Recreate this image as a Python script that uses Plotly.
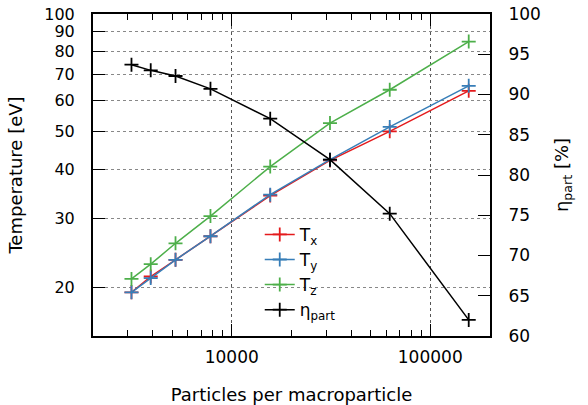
import plotly.graph_objects as go

# Data
particles = [3125, 3906.25, 5208.33, 7812.5, 15625, 31250, 62500, 156250]
T_x = [19.4, 21.3, 23.5, 27.0, 34.3, 42.2, 50.1, 63.6]
T_y = [19.4, 21.1, 23.5, 27.0, 34.5, 42.4, 51.4, 65.5]
T_z = [21.0, 22.9, 25.9, 30.4, 40.7, 52.6, 64.0, 85.0]
eta_part = [93.7, 93.0, 92.3, 90.7, 87.0, 81.9, 75.2, 62.0]

x_major = [10000, 100000]
x_minor = [2000, 3000, 4000, 5000, 6000, 7000, 8000, 9000,
           20000, 30000, 40000, 50000, 60000, 70000, 80000, 90000, 200000]
y_ticks = [20, 30, 40, 50, 60, 70, 80, 90, 100]
y2_ticks = [60, 65, 70, 75, 80, 85, 90, 95, 100]

FONT = "DejaVu Sans"
fs = 17
fst = 18

series = [
    ("T<sub>x</sub>", T_x, "#e41a1c", "y"),
    ("T<sub>y</sub>", T_y, "#377eb8", "y"),
    ("T<sub>z</sub>", T_z, "#4daf4a", "y"),
    ("η<sub>part</sub>", eta_part, "#000000", "y2"),
]

fig = go.Figure()
for name, vals, col, ax in series:
    fig.add_trace(go.Scatter(
        x=particles, y=vals, name=name, yaxis=ax, mode="lines+markers",
        line=dict(color=col, width=1.5),
        marker=dict(symbol="cross-thin", size=10, line=dict(color=col, width=1.8)),
    ))

fig.update_layout(
    width=588, height=405,
    margin=dict(l=93, r=98, t=14, b=69),
    paper_bgcolor="white", plot_bgcolor="white",
    font=dict(family=FONT, size=fs, color="black"),
    showlegend=True,
    legend=dict(x=0.42, y=0.37, xanchor="left", yanchor="top",
                bgcolor="rgba(0,0,0,0)", font=dict(size=fs),
                tracegroupgap=0, itemwidth=30),
    xaxis=dict(
        type="log", range=[3.301, 5.301],
        tickvals=x_major, ticktext=[str(v) for v in x_major],
        ticks="inside", ticklen=12, tickwidth=1.2, tickcolor="black",
        showline=True, linecolor="black", linewidth=2, mirror="ticks",
        showgrid=True, gridcolor="#555555", griddash="dot", gridwidth=1,
        minor=dict(tickvals=x_minor, ticks="inside", ticklen=6, tickwidth=1.2,
                   tickcolor="black", showgrid=False),
        zeroline=False, automargin=False, ticklabelstandoff=5,
        title=dict(text="Particles per macroparticle", standoff=23, font=dict(size=fst)),
    ),
    yaxis=dict(
        type="log", range=[1.1761, 2.0],
        tickvals=y_ticks, ticktext=[str(v) for v in y_ticks],
        tickfont=dict(size=16),
        ticks="inside", ticklen=12, tickwidth=1.2, tickcolor="black",
        showline=True, linecolor="black", linewidth=2,
        showgrid=True, gridcolor="#888888", griddash="dot", gridwidth=1,
        zeroline=False, automargin=False, ticklabelstandoff=13,
        title=dict(text="Temperature [eV]", standoff=17, font=dict(size=fst)),
    ),
    yaxis2=dict(
        overlaying="y", side="right", range=[60, 100],
        tickvals=y2_ticks, ticktext=[str(v) for v in y2_ticks],
        ticks="inside", ticklen=12, tickwidth=1.2, tickcolor="black",
        showline=True, linecolor="black", linewidth=2,
        showgrid=False, zeroline=False, automargin=False, ticklabelstandoff=13,
        title=dict(text="η<sub>part</sub> [%]", standoff=16, font=dict(size=fst)),
    ),
)

fig.write_html("out.html")
